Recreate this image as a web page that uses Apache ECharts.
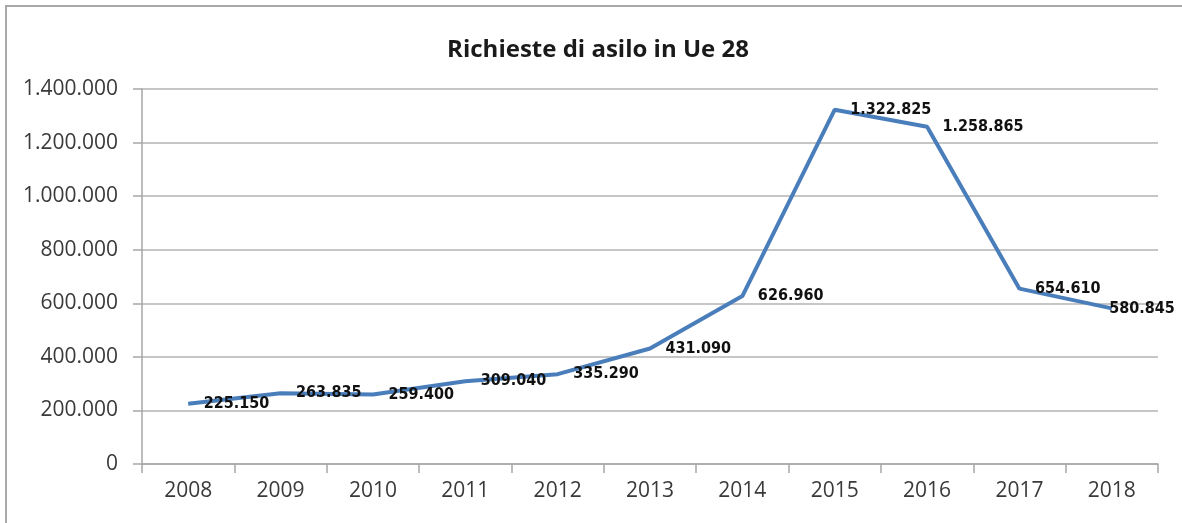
<!DOCTYPE html>
<html>
<head>
<meta charset="utf-8">
<script src="https://cdn.jsdelivr.net/npm/echarts@6/dist/echarts.min.js"></script>
<style>
  html, body { margin: 0; padding: 0; background: #fff; overflow: hidden; }
  #frame {
    position: absolute; left: 5px; top: 5px; width: 1300px; height: 700px;
    border: 2px solid #a9a9a9; box-sizing: border-box;
  }
  #chart { position: absolute; left: 0; top: 0; width: 1182px; height: 523px; }
</style>
</head>
<body>
<div id="frame"></div>
<div id="chart"></div>
<script>
// Asylum applications in the EU-28, 2008–2018
const years = ['2008', '2009', '2010', '2011', '2012', '2013', '2014', '2015', '2016', '2017', '2018'];
const requests = [225150, 263835, 259400, 309040, 335290, 431090, 626960, 1322825, 1258865, 654610, 580845];
const yTicks = [0, 200000, 400000, 600000, 800000, 1000000, 1200000, 1400000];

// Italian thousands separator: 1322825 -> "1.322.825"
function fmt(v) {
  return String(Math.round(v)).replace(/\B(?=(\d{3})+(?!\d))/g, '.');
}

// the last label sits on top of its point so it stays inside the frame
const lineData = requests.map((v, i) =>
  i === requests.length - 1 ? { value: v, label: { distance: -3 } } : v);

const chart = echarts.init(document.getElementById('chart'));
chart.setOption({
  animation: false,
  backgroundColor: 'transparent',
  title: {
    text: 'Richieste di asilo in Ue 28',
    left: 593, top: 45, textAlign: 'center', textVerticalAlign: 'middle',
    textStyle: { fontFamily: 'Open Sans', fontWeight: 'bold', fontSize: 24, color: '#1a1a1a' }
  },
  grid: { left: 142, right: 24, top: 89, bottom: 59, containLabel: false },
  xAxis: {
    type: 'category',
    data: years,
    boundaryGap: true,
    axisLine: { lineStyle: { color: '#a6a6a6', width: 1.5 } },
    axisTick: { show: true, length: 9, inside: false, lineStyle: { color: '#a6a6a6', width: 1.5 } },
    axisLabel: { fontFamily: 'Open Sans', fontSize: 21, color: '#3a3a3a', margin: 17 }
  },
  yAxis: {
    type: 'value',
    min: yTicks[0], max: yTicks[yTicks.length - 1], interval: yTicks[1] - yTicks[0],
    axisLine: { show: true, lineStyle: { color: '#a6a6a6', width: 1.5 } },
    axisTick: { show: true, length: 9, lineStyle: { color: '#a6a6a6', width: 1.5 } },
    splitLine: { lineStyle: { color: '#b3b3b3', width: 1.5 } },
    axisLabel: { fontFamily: 'Open Sans', fontSize: 21, color: '#3a3a3a', margin: 24, formatter: fmt }
  },
  series: [{
    type: 'line',
    data: lineData,
    symbol: 'circle',
    symbolSize: 1,
    itemStyle: { color: 'rgba(0,0,0,0)', borderWidth: 0 },
    lineStyle: { color: '#4a7ebb', width: 4 },
    label: {
      show: true, position: 'right', distance: 15,
      formatter: p => fmt(p.value),
      fontFamily: 'DejaVu Sans Condensed', fontWeight: 'bold', fontSize: 16, color: '#111'
    }
  }]
});
</script>
</body>
</html>
